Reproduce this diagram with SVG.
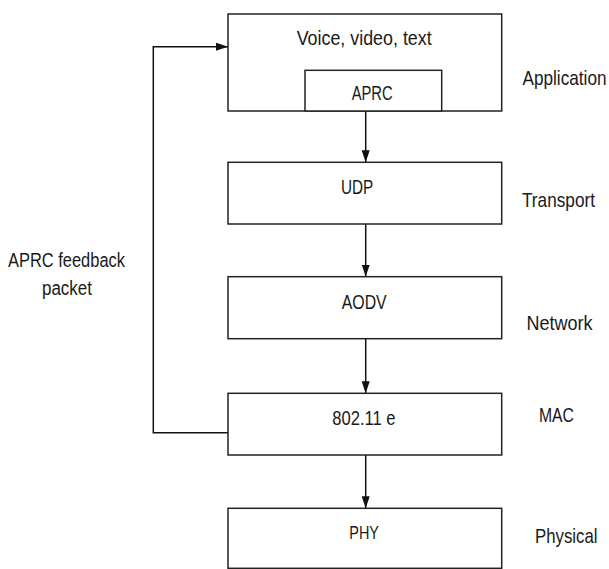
<svg xmlns="http://www.w3.org/2000/svg" width="609" height="569" viewBox="0 0 609 569">
<style>
.box{fill:#fff;stroke:#222;stroke-width:1.5}
.t{font-family:"Liberation Sans",Arial,sans-serif;font-size:20px;fill:#1a1a1a}
.l{font-size:21px}
.c{fill:none;stroke:#111;stroke-width:1.5}
</style>
<defs>
<marker id="ah" viewBox="0 0 12 8" refX="12" refY="4" markerWidth="12" markerHeight="8" markerUnits="userSpaceOnUse" orient="auto">
<path d="M0,0 L12,4 L0,8 Z" fill="#111"/>
</marker>
</defs>
<rect width="609" height="569" fill="#fff"/>
<g id="connectors">
<line class="c" x1="365.7" y1="111" x2="365.7" y2="162.3" marker-end="url(#ah)"/>
<line class="c" x1="365.7" y1="224" x2="365.7" y2="276.7" marker-end="url(#ah)"/>
<line class="c" x1="365.7" y1="338.7" x2="365.7" y2="393.3" marker-end="url(#ah)"/>
<line class="c" x1="365.7" y1="455" x2="365.7" y2="508.3" marker-end="url(#ah)"/>
<polyline class="c" points="228,432.7 153.3,432.7 153.3,46.7 228,46.7" marker-end="url(#ah)"/>
</g>
<g id="application">
<rect class="box" x="228" y="14" width="273.7" height="97"/>
<text class="t" x="296.7" y="45" textLength="135" lengthAdjust="spacingAndGlyphs">Voice, video, text</text>
</g>
<g id="aprc">
<rect class="box" x="305" y="70.3" width="136.7" height="40.7"/>
<text class="t" x="351.7" y="100" textLength="41" lengthAdjust="spacingAndGlyphs">APRC</text>
</g>
<g id="udp">
<rect class="box" x="228" y="162.3" width="273.7" height="61.7"/>
<text class="t" x="341" y="194" textLength="32.3" lengthAdjust="spacingAndGlyphs">UDP</text>
</g>
<g id="aodv">
<rect class="box" x="228" y="276.7" width="273.7" height="62"/>
<text class="t" x="341.7" y="309" textLength="45" lengthAdjust="spacingAndGlyphs">AODV</text>
</g>
<g id="mac">
<rect class="box" x="228" y="393.3" width="273.7" height="61.7"/>
<text class="t" x="332.3" y="425" textLength="63.3" lengthAdjust="spacingAndGlyphs">802.11 e</text>
</g>
<g id="phy">
<rect class="box" x="228" y="508.3" width="273.7" height="60"/>
<text class="t" x="349.3" y="539.3" textLength="29.7" lengthAdjust="spacingAndGlyphs" style="font-size:19px">PHY</text>
</g>
<g id="layer-labels">
<text class="t l" x="522.5" y="85" textLength="84" lengthAdjust="spacingAndGlyphs">Application</text>
<text class="t l" x="522" y="206.7" textLength="73" lengthAdjust="spacingAndGlyphs">Transport</text>
<text class="t l" x="526.5" y="330" textLength="66" lengthAdjust="spacingAndGlyphs">Network</text>
<text class="t l" x="539" y="421.5" textLength="35" lengthAdjust="spacingAndGlyphs">MAC</text>
<text class="t l" x="535" y="543.3" textLength="62.5" lengthAdjust="spacingAndGlyphs">Physical</text>
</g>
<g id="feedback-label">
<text class="t" x="8" y="267" textLength="117" lengthAdjust="spacingAndGlyphs">APRC feedback</text>
<text class="t" x="42" y="295" textLength="50" lengthAdjust="spacingAndGlyphs">packet</text>
</g>
</svg>
